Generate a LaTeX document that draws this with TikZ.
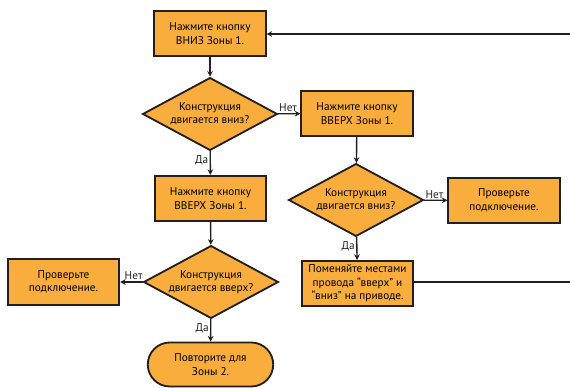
\documentclass[tikz,border=0pt]{standalone}
\usepackage{fontspec}
\setmainfont{PT Sans}
\usetikzlibrary{shapes.geometric,shapes.misc,arrows.meta}
\definecolor{boxfill}{HTML}{F8AD3C}
\definecolor{ink}{HTML}{231F20}
\begin{document}
\begin{tikzpicture}[
    x=0.025cm, y=-0.025cm,
    font=\fontsize{8}{9.6}\selectfont,
    block/.style={rectangle, draw=ink, fill=boxfill, line width=1.3pt, text centered, align=center, minimum width=2.78cm, minimum height=1.13cm, inner sep=1pt},
    decision/.style={diamond, aspect=1.86, draw=ink, fill=boxfill, line width=1.3pt, align=center, minimum width=3.37cm, minimum height=1.82cm, inner sep=-1pt},
    term/.style={rounded rectangle, draw=ink, fill=boxfill, line width=1.3pt, align=center, minimum width=3.37cm, minimum height=1.1cm},
    arrow/.style={-{Stealth[length=4pt,width=4pt]}, line width=1pt, draw=ink},
    lbl/.style={text=ink, inner sep=1pt}
]
\useasboundingbox (0,0) rectangle (570,387);

% Left column
\node[block] (down1) at (210,33.5) {Нажмите кнопку\\ВНИЗ Зоны 1.};
\node[decision] (isdown1) at (210,114) {Конструкция\\двигается вниз?};
\node[block] (up1) at (210.5,198.5) {Нажмите кнопку\\ВВЕРХ Зоны 1.};
\node[decision] (isup) at (211,282) {Конструкция\\двигается вверх?};
\node[block] (checkL) at (63.5,282) {Проверьте\\подключение.};
\node[term] (repeat) at (210.5,364.5) {Повторите для\\Зоны 2.};

% Right column
\node[block] (up2) at (357,113.5) {Нажмите кнопку\\ВВЕРХ Зоны 1.};
\node[decision] (isdown2) at (356,200) {Конструкция\\двигается вниз?};
\node[block] (checkR) at (504,200.5) {Проверьте\\подключение.};
\node[block] (swap) at (357.5,283.5) {Поменяйте местами\\провода “вверх” и\\“вниз” на приводе.};

% Loop ends (cut off at the edge)
\coordinate (backtop) at (570,34);
\coordinate (backbot) at (570,282);

% Arrows
\draw[arrow] (down1) -- (isdown1);
\draw[arrow] (isdown1) -- node[lbl, left, pos=0.4] {Да} (up1);
\draw[arrow] (isdown1) -- node[lbl, above, pos=0.45] {Нет} (up2);
\draw[arrow] (up1) -- (isup);
\draw[arrow] (isup) -- node[lbl, above, pos=0.4] {Нет} (checkL);
\draw[arrow] (isup) -- node[lbl, left, pos=0.4] {Да} (repeat);

\draw[arrow] (up2) -- (isdown2);
\draw[arrow] (isdown2) -- node[lbl, above, pos=0.45] {Нет} (checkR);
\draw[arrow] (isdown2) -- node[lbl, left, pos=0.4] {Да} (swap);

\draw[line width=1pt, ink] (swap.east |- backbot) -- (backbot);
\draw[arrow] (backtop) -- (down1.east |- backtop);

\end{tikzpicture}
\end{document}
